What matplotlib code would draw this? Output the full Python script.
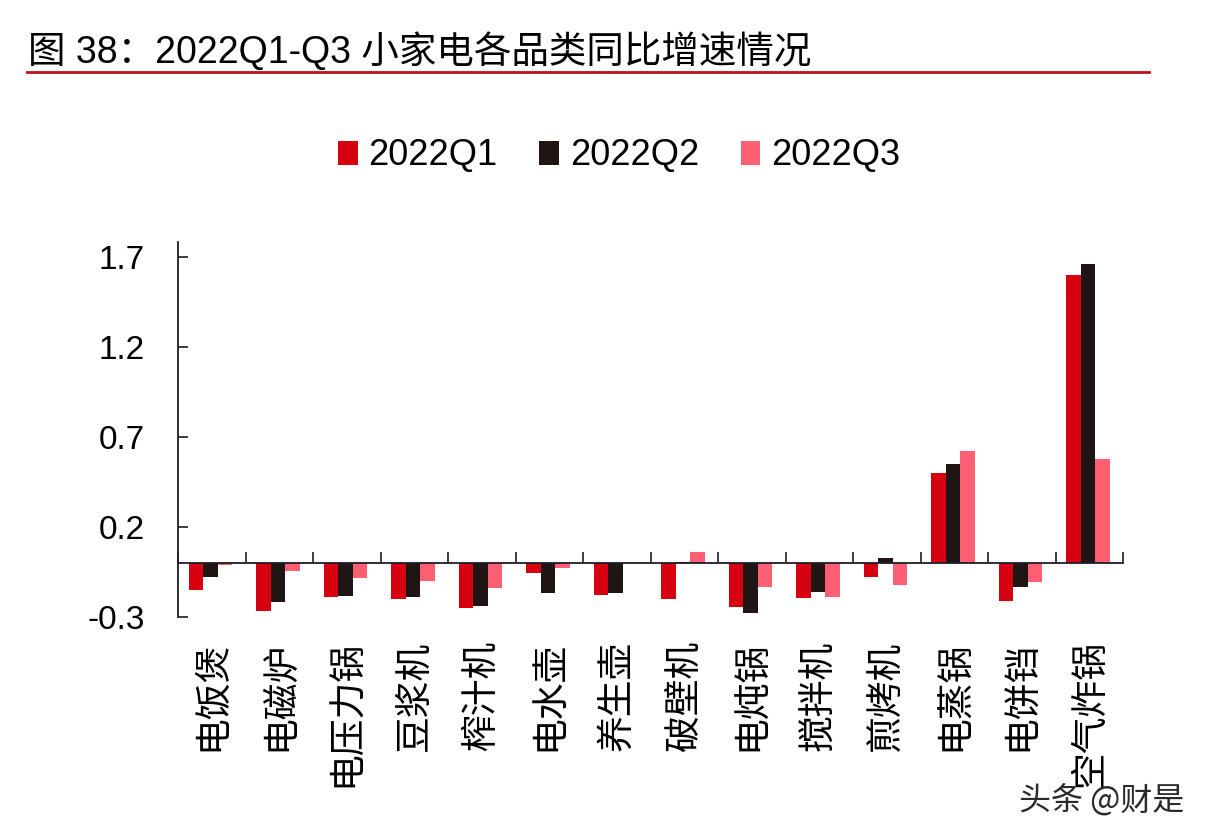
import matplotlib
matplotlib.use("Agg")
import matplotlib.pyplot as plt
import numpy as np
from matplotlib.lines import Line2D

plt.rcParams['font.family'] = ['Liberation Sans', 'Noto Sans CJK SC', 'DejaVu Sans']
plt.rcParams['axes.unicode_minus'] = False

categories = ['电饭煲', '电磁炉', '电压力锅', '豆浆机', '榨汁机', '电水壶', '养生壶',
              '破壁机', '电炖锅', '搅拌机', '煎烤机', '电蒸锅', '电饼铛', '空气炸锅']
q1 = [-0.15, -0.27, -0.19, -0.20, -0.25, -0.06, -0.18, -0.20, -0.245, -0.195, -0.08, 0.50, -0.215, 1.60]
q2 = [-0.08, -0.22, -0.185, -0.19, -0.24, -0.17, -0.17, 0.005, -0.28, -0.165, 0.025, 0.55, -0.135, 1.66]
q3 = [-0.015, -0.045, -0.085, -0.10, -0.14, -0.03, -0.004, 0.06, -0.135, -0.19, -0.125, 0.62, -0.11, 0.575]
series_names = ['2022Q1', '2022Q2', '2022Q3']
y_ticks = [-0.3, 0.2, 0.7, 1.2, 1.7]
y_tick_labels = ['-0.3', '0.2', '0.7', '1.2', '1.7']
title = '图 38：2022Q1-Q3 小家电各品类同比增速情况'
watermark = '头条 @财是'

colors = ['#D7000F', '#201515', '#FF5F72']
axis_color = '#1c1c2a'

fig = plt.figure(figsize=(12.12, 8.38), dpi=100)
ax = fig.add_axes([178/1212, 1-616.7/838, (1123-178)/1212, (616.7-241.7)/838])

x = np.arange(len(categories))
w = 0.215
for i, (vals, name) in enumerate(zip([q1, q2, q3], series_names)):
    ax.bar(x + (i-1)*w - 0.02, vals, width=w, color=colors[i], label=name, zorder=2)

ax.set_xlim(-0.5, len(categories)-0.5)
ax.set_ylim(-0.3, 1.783)

for s in ['top', 'right']:
    ax.spines[s].set_visible(False)
ax.spines['bottom'].set_position(('data', 0))
for s in ['left', 'bottom']:
    ax.spines[s].set_color(axis_color)
    ax.spines[s].set_linewidth(1.3)
    ax.spines[s].set_zorder(3)

ax.set_yticks(y_ticks)
ax.set_yticklabels(y_tick_labels)
ax.tick_params(axis='y', direction='in', length=7, width=1.2, color=axis_color,
               labelsize=24, pad=24, labelcolor='black')

ax.set_xticks(x)
ax.set_xticklabels(categories, rotation=90, fontsize=26.5, family=['Noto Sans CJK SC'])
ax.tick_params(axis='x', which='major', length=0, pad=56)
ax.set_xticks(np.arange(len(categories)+1) - 0.5, minor=True)
ax.tick_params(axis='x', which='minor', direction='in', length=8, width=1.2, color=axis_color)

# title and underline
fig.text(28/1212, 1-63.5/838, title, fontsize=27, va='baseline', ha='left', color='black')
fig.add_artist(Line2D([27/1212, 1149/1212], [1-71.7/838, 1-71.7/838],
                      transform=fig.transFigure, color='#B8101A', lw=2.0))

leg = fig.legend(loc='center', bbox_to_anchor=(619/1212, 1-156/838), ncol=3, frameon=False,
                 fontsize=26, handlelength=0.55, handleheight=0.65, handletextpad=0.3,
                 columnspacing=1.15)

fig.text(1102/1212, 1-800/838, watermark, fontsize=23, ha='center', va='center',
         color='#2a2a2a', family=['Noto Sans CJK SC', 'DejaVu Sans'])

fig.savefig('out.png', dpi=100, facecolor='white')
